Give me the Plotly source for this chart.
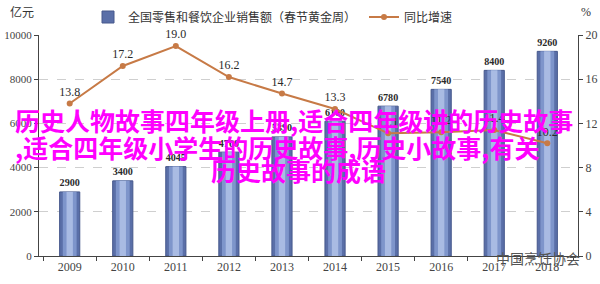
import plotly.graph_objects as go

years = ["2009", "2010", "2011", "2012", "2013", "2014", "2015", "2016", "2017", "2018"]
sales = [2900, 3400, 4045, 4700, 5390, 6100, 6780, 7540, 8400, 9260]
growth = [13.8, 17.2, 19.0, 16.2, 14.7, 13.3, 11.1, 11.2, 11.4, 10.2]

bar_name = "全国零售和餐饮企业销售额（春节黄金周）"
line_name = "同比增速"
overlay_lines = ["历史人物故事四年级上册,适合四年级讲的历史故事",
                 ",适合四年级小学生的历史故事,历史小故事,有关",
                 "历史故事的成语"]

serif = "Liberation Serif, Times New Roman, serif"
cjk = "Noto Sans CJK SC, sans-serif"

fig = go.Figure()

# cylinder-like bars: outer dark, inner lighter layers
fig.add_trace(go.Bar(
    x=years, y=sales, name=bar_name, width=0.38, legend="legend",
    marker=dict(color="#5A6FA8", line=dict(color="#46588C", width=1)),
    text=[str(v) for v in sales], textposition="outside",
    textfont=dict(family=serif, size=12, color="#2a2a2a", weight="bold"),
    cliponaxis=False, showlegend=True,
))
fig.add_trace(go.Bar(
    x=years, y=sales, width=0.26, hoverinfo="skip", showlegend=False,
    marker=dict(color="#7E95CB", line=dict(width=0)),
))
fig.add_trace(go.Bar(
    x=years, y=sales, width=0.12, hoverinfo="skip", showlegend=False,
    marker=dict(color="#A9BBE3", line=dict(width=0)),
))

fig.add_trace(go.Scatter(
    x=years, y=growth, name=line_name, yaxis="y2", legend="legend2",
    mode="lines+markers+text",
    line=dict(color="#C77A46", width=2),
    marker=dict(color="#C77A46", size=6),
    text=[f"{v:.1f}" for v in growth], textposition="top center",
    textfont=dict(family=serif, size=12, color="#2a2a2a"),
    cliponaxis=False,
))

ann = []
ann.append(dict(text="亿元", xref="paper", yref="paper",
                x=(22 - 39) / 539, y=(256 - 12) / 221,
                xanchor="center", yanchor="middle", showarrow=False,
                font=dict(family=cjk, size=12, color="#333")))
ann.append(dict(text="%", xref="paper", yref="paper",
                x=(586 - 39) / 539, y=(256 - 12) / 221,
                xanchor="center", yanchor="middle", showarrow=False,
                font=dict(family=serif, size=12, color="#333")))
ann.append(dict(text="中国烹饪协会", xref="paper", yref="paper",
                x=(582 - 39) / 539, y=(256 - 258) / 221,
                xanchor="right", yanchor="middle", showarrow=False,
                font=dict(family=cjk, size=14, color="#555")))
# overlay magenta text lines
positions = [(13, 120, "left"), (13, 147, "left"), (298, 170, "center")]
for txt, (px, py, anc) in zip(overlay_lines, positions):
    ann.append(dict(text=txt, xref="paper", yref="paper",
                    x=(px - 39) / 539, y=(256 - py) / 221,
                    xanchor=anc, yanchor="middle", showarrow=False,
                    font=dict(family=cjk, size=25, color="#FF00FF", weight="bold")))

legend_common = dict(orientation="h", xanchor="left", yanchor="middle",
                     font=dict(family=cjk, size=12, color="#333"),
                     bgcolor="rgba(0,0,0,0)")

fig.update_layout(
    width=600, height=284,
    margin=dict(l=39, r=22, t=35, b=28, autoexpand=False),
    paper_bgcolor="white", plot_bgcolor="white",
    barmode="overlay",
    showlegend=True,
    legend=dict(x=(88 - 39) / 539, y=(256 - 17) / 221, **legend_common),
    legend2=dict(x=(364 - 39) / 539, y=(256 - 17) / 221, **legend_common),
    xaxis=dict(type="category", showline=True, linecolor="#444", linewidth=1,
               ticks="outside", ticklen=4, tickcolor="#444", tickson="boundaries",
               tickfont=dict(family=serif, size=12, color="#444"),
               showgrid=False, automargin=False),
    yaxis=dict(range=[0, 10000], dtick=2000, tickformat="d", showline=True,
               linecolor="#444", ticks="outside", ticklen=4, tickcolor="#444",
               tickfont=dict(family=serif, size=11, color="#444"),
               showgrid=True, gridcolor="#cfcfcf", griddash="dash", gridwidth=1,
               zeroline=False, automargin=False),
    yaxis2=dict(range=[0, 20], dtick=4, overlaying="y", side="right",
                showline=True, linecolor="#444", ticks="outside", ticklen=4,
                tickcolor="#444", tickfont=dict(family=serif, size=12, color="#444"),
                showgrid=False, zeroline=False, automargin=False),
    annotations=ann,
)

fig.write_html("out.html")
